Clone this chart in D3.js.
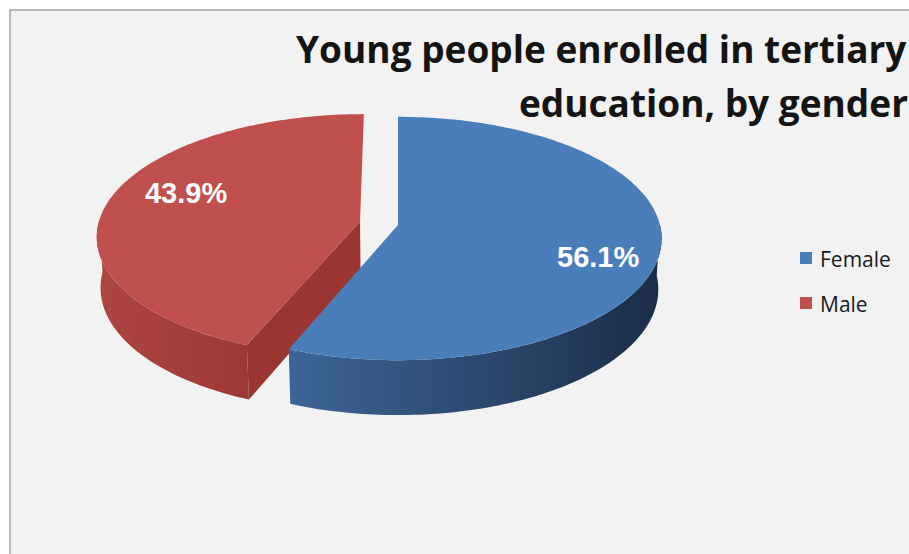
<!DOCTYPE html>
<html>
<head>
<meta charset="utf-8">
<script src="https://cdn.jsdelivr.net/npm/d3@7"></script>
<style>
  body { margin: 0; background: #ffffff; }
  svg { display: block; }
</style>
</head>
<body>
<div id="chart"></div>
<script>
/*** DATA ***/
const categories = ["Female", "Male"];
const shares = [56.1, 43.9];
const explode = [0, 0.148];
const titleLines = ["Young people enrolled in tertiary", "education, by gender"];

/*** STYLE ***/
const W = 909, H = 554;
const topCol = {Female: "#4a7ebb", Male: "#c0504d"};
const sideCol = {Female: ["#3d6597", "#1b2d48"], Male: ["#ad4541", "#9d3935"]};
const faceCol = {Female: "#2f4f7a", Male: "#9a3632"};

// 3d pie projection
const cx = 398, cy = 225, R = 262;
const tilt = 27.3 * Math.PI / 180;
const sinT = Math.sin(tilt), cosT = Math.cos(tilt);
const dist = 8.0;
const depth = 0.22;
const labelR = 0.76, labelShift = 8.5 * Math.PI / 180;

function project(X, Z, h) {
  const v = Z * sinT - h * cosT;
  const w = Z * cosT + h * sinT;
  const s = dist / (dist - w);
  return [cx + R * X * s, cy + R * v * s];
}

const svg = d3.select("#chart").append("svg")
  .attr("width", W).attr("height", H);

const defs = svg.append("defs");

// chart area
svg.append("rect")
  .attr("x", 10).attr("y", 10)
  .attr("width", W + 20).attr("height", H + 20)
  .attr("fill", "#f2f2f2")
  .attr("stroke", "#a3a3a3")
  .attr("stroke-width", 1.5);

// title
svg.append("g").selectAll("text")
  .data(titleLines)
  .enter().append("text")
    .attr("x", (d, i) => i == 0 ? 296 : 519)
    .attr("y", (d, i) => i == 0 ? 63 : 117)
    .attr("font-family", "'Open Sans', sans-serif")
    .attr("font-weight", "bold")
    .attr("font-size", 37)
    .attr("fill", "#141414")
    .text(d => d);

/*** PIE ***/
const data = categories.map((c, i) => ({name: c, value: shares[i], ex: explode[i]}));
const slices = d3.pie().sort(null).value(d => d.value)(data);

const line = d3.line();

function arcPts(a0, a1, h, off) {
  const n = Math.max(2, Math.ceil((a1 - a0) / 0.02));
  return d3.range(n + 1).map(i => {
    const a = a0 + (a1 - a0) * i / n;
    return project(Math.sin(a) + off[0], -Math.cos(a) + off[1], h);
  });
}

const pieG = svg.append("g");

// draw back slice (Male) first, then Female
const order = slices.slice().reverse();

order.forEach(s => {
  const name = s.data.name;
  const mid = (s.startAngle + s.endAngle) / 2;
  const off = [s.data.ex * Math.sin(mid), -s.data.ex * Math.cos(mid)];
  const g = pieG.append("g");

  // outer side, visible for the front half
  const a0 = Math.max(s.startAngle, Math.PI / 2);
  const a1 = Math.min(s.endAngle, 3 * Math.PI / 2);
  if (a1 > a0) {
    const topA = arcPts(a0, a1, 0, off);
    const botA = arcPts(a0, a1, -depth, off).reverse();
    const pts = topA.concat(botA);
    const xs = d3.extent(pts, p => p[0]);
    const gid = "side-" + name;
    const grad = defs.append("linearGradient")
      .attr("id", gid)
      .attr("gradientUnits", "userSpaceOnUse")
      .attr("x1", xs[0]).attr("x2", xs[1])
      .attr("y1", 0).attr("y2", 0);
    grad.append("stop").attr("offset", "0%").attr("stop-color", sideCol[name][0]);
    grad.append("stop").attr("offset", "100%").attr("stop-color", sideCol[name][1]);
    g.append("path")
      .attr("d", line(pts) + "Z")
      .attr("fill", "url(#" + gid + ")");
  }

  // radial cut faces that face the viewer
  [[s.startAngle, -1], [s.endAngle, 1]].forEach(([a, sgn]) => {
    const n = a + sgn * Math.PI / 2;
    if (Math.cos(n) < -1e-6) {
      const c0 = project(off[0], off[1], 0);
      const e0 = project(Math.sin(a) + off[0], -Math.cos(a) + off[1], 0);
      const e1 = project(Math.sin(a) + off[0], -Math.cos(a) + off[1], -depth);
      const c1 = project(off[0], off[1], -depth);
      g.append("path")
        .attr("d", line([c0, e0, e1, c1]) + "Z")
        .attr("fill", faceCol[name]);
    }
  });

  // top face
  const topPts = [project(off[0], off[1], 0)].concat(arcPts(s.startAngle, s.endAngle, 0, off));
  g.append("path")
    .attr("d", line(topPts) + "Z")
    .attr("fill", topCol[name]);
});

// labels
pieG.selectAll("text.lbl")
  .data(slices)
  .enter().append("text")
    .attr("class", "lbl")
    .attr("transform", s => {
      const mid = (s.startAngle + s.endAngle) / 2;
      const a = mid + labelShift;
      const off = [s.data.ex * Math.sin(mid), -s.data.ex * Math.cos(mid)];
      const p = project(labelR * Math.sin(a) + off[0], -labelR * Math.cos(a) + off[1], 0);
      return "translate(" + (p[0] + 7) + "," + (p[1] + 1) + ")";
    })
    .attr("dy", "0.35em")
    .attr("text-anchor", "middle")
    .attr("font-family", "'Liberation Sans', Arial, sans-serif")
    .attr("font-weight", "bold")
    .attr("font-size", 29)
    .attr("fill", "#ffffff")
    .text(s => s.data.value.toFixed(1) + "%");

/*** LEGEND ***/
const legend = svg.append("g")
  .attr("transform", "translate(800,252)");

const item = legend.selectAll("g")
  .data(categories)
  .enter().append("g")
    .attr("transform", (d, i) => "translate(0," + (i * 45) + ")");

item.append("rect")
  .attr("width", 12).attr("height", 12)
  .attr("fill", d => topCol[d]);

item.append("text")
  .attr("x", 20).attr("y", 15)
  .attr("font-family", "'Open Sans', sans-serif")
  .attr("font-size", 21)
  .attr("fill", "#1a1a1a")
  .text(d => d);
</script>
</body>
</html>
